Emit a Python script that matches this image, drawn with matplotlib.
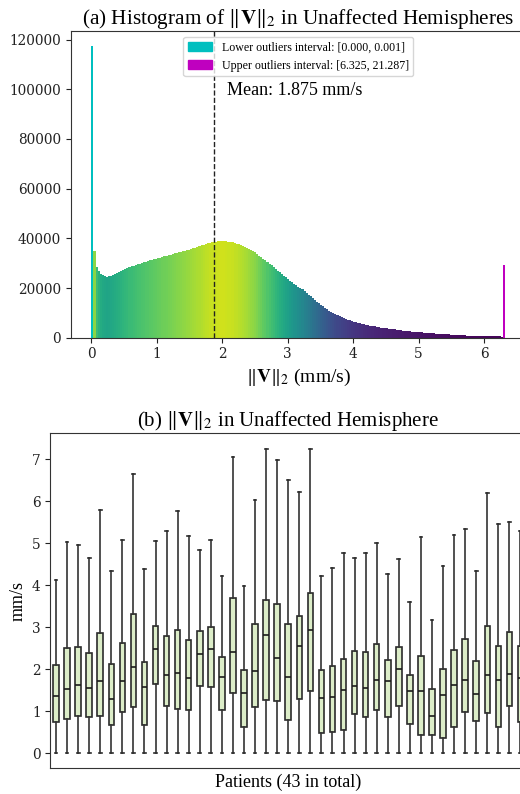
import numpy as np
import matplotlib
matplotlib.use("Agg")
import matplotlib.pyplot as plt
import matplotlib.cm as cm
from matplotlib.patches import Patch

# Figure size (the original is cropped on the right, so axes run past the edge)
IMAGE_WIDTH = 520  # px
IMAGE_HEIGHT = 794  # px
DPI = 100

TEXT_FONT = 'Liberation Serif'
TICK_FONT = 'DejaVu Serif'

# ---- (a) histogram of |V|_2 ----
HIST_LO = 0.0
HIST_HI = 6.325
N_BINS = 201  # first bin = lower outliers, last bin = upper outliers
LOWER_OUTLIER_COUNT = 117600
UPPER_OUTLIER_COUNT = 29300
MEAN_SPEED = 1.875
LOWER_INTERVAL = (0.000, 0.001)
UPPER_INTERVAL = (6.325, 21.287)
COLOR_VMAX = 42000  # count mapped to the top of the colormap

# counts of the 199 regular bins
main_counts = [
    34700, 28600, 26800, 25800, 25200, 24800, 24600, 24700, 25000, 25300,
    25700, 26100, 26500, 26900, 27300, 27700, 28000, 28400, 28700, 29000,
    29300, 29600, 29800, 30100, 30300, 30600, 30800, 31100, 31300, 31500,
    31800, 32000, 32200, 32500, 32700, 32900, 33200, 33400, 33700, 33900,
    34200, 34400, 34600, 34800, 35000, 35300, 35500, 35800, 36100, 36300,
    36600, 36900, 37200, 37500, 37800, 38000, 38300, 38500, 38600, 38700,
    38800, 38900, 38900, 38900, 38800, 38700, 38600, 38400, 38200, 37900,
    37600, 37300, 37000, 36600, 36300, 35900, 35400, 35000, 34500, 33800,
    33000, 32500, 31800, 31200, 30500, 29800, 29100, 28400, 27700, 27000,
    26400, 25700, 25000, 24400, 23700, 23000, 22400, 21800, 21200, 20600,
    20100, 19400, 18700, 18000, 17300, 16600, 15900, 15200, 14500, 13900,
    13200, 12600, 12000, 11400, 10900, 10400, 9900, 9500, 9000, 8600,
    8300, 7950, 7600, 7300, 7000, 6700, 6450, 6200, 5950, 5750,
    5600, 5400, 5200, 5000, 4850, 4700, 4550, 4400, 4250, 4100,
    3900, 3800, 3700, 3600, 3500, 3400, 3300, 3150, 3050, 2950,
    2800, 2720, 2640, 2560, 2480, 2400, 2330, 2260, 2190, 2100,
    2000, 1940, 1880, 1820, 1760, 1700, 1640, 1580, 1520, 1460,
    1400, 1350, 1300, 1250, 1200, 1150, 1100, 1050, 1000, 950,
    900, 870, 840, 810, 780, 750, 720, 700, 680, 650,
    620, 600, 580, 560, 540, 520, 500, 480, 460,
]

# ---- (b) per-patient box statistics (mm/s) ----
box_q1 = [0.75, 0.80, 0.88, 0.87, 0.88, 0.68, 0.99, 1.09, 0.68, 1.65,
          1.12, 1.05, 1.03, 1.60, 1.58, 1.02, 1.43, 0.61, 1.09, 1.27,
          1.25, 0.79, 1.28, 1.49, 0.48, 0.51, 0.56, 0.94, 0.85, 1.02,
          0.85, 1.13, 0.70, 0.44, 0.44, 0.37, 0.61, 0.98, 0.77, 0.95,
          0.61, 1.13, 0.75]
box_med = [1.35, 1.53, 1.63, 1.55, 1.72, 1.30, 1.72, 2.06, 1.58, 2.47,
           1.87, 1.91, 1.78, 2.37, 2.49, 1.82, 2.41, 1.44, 1.96, 2.82,
           2.27, 1.81, 2.56, 2.94, 1.32, 1.33, 1.51, 1.61, 1.56, 1.74,
           1.71, 2.01, 1.48, 1.47, 0.88, 1.39, 1.62, 1.75, 1.41, 1.86,
           1.75, 1.88, 1.80]
box_q3 = [2.10, 2.50, 2.52, 2.38, 2.85, 2.13, 2.63, 3.32, 2.17, 3.02,
          2.80, 2.94, 2.69, 2.91, 3.00, 2.30, 3.69, 1.97, 3.07, 3.66,
          3.55, 3.08, 3.26, 3.81, 1.99, 2.07, 2.25, 2.43, 2.42, 2.61,
          2.23, 2.52, 1.86, 2.31, 1.52, 2.00, 2.45, 2.72, 2.19, 3.04,
          2.55, 2.88, 2.55]
box_whishi = [4.13, 5.02, 4.97, 4.65, 5.80, 4.33, 5.08, 6.65, 4.38, 5.06,
              5.30, 5.78, 5.18, 4.85, 5.09, 4.21, 7.05, 3.99, 6.03, 7.25,
              6.98, 6.51, 6.22, 7.26, 4.21, 4.40, 4.76, 4.64, 4.77, 5.01,
              4.28, 4.62, 3.61, 5.16, 3.17, 4.46, 5.19, 5.34, 4.33, 6.20,
              5.47, 5.52, 5.30]
box_whislo = [0.0] * len(box_q1)

plt.rcParams['font.family'] = TEXT_FONT
plt.rcParams['mathtext.fontset'] = 'stix'

fig = plt.figure(figsize=(IMAGE_WIDTH / DPI, IMAGE_HEIGHT / DPI), dpi=DPI)

# ---------------- (a) histogram ----------------
ax1 = fig.add_axes([0.136, 0.5747, 0.8756, 0.3863])

edges = np.linspace(HIST_LO, HIST_HI, N_BINS + 1)
width = edges[1] - edges[0]
counts = np.array(main_counts, dtype=float)
colors = cm.viridis(np.clip(counts / COLOR_VMAX, 0, 1))

ax1.bar(edges[1:-2], counts, width=width, align='edge', color=colors, linewidth=0)
ax1.bar(edges[0], LOWER_OUTLIER_COUNT, width=width, align='edge', color='c', linewidth=0)
ax1.bar(edges[-2], UPPER_OUTLIER_COUNT, width=width, align='edge', color='m', linewidth=0)

ax1.axvline(MEAN_SPEED, color='#222222', linestyle='--', linewidth=1.0)
ax1.text(MEAN_SPEED + 0.2, 99600, 'Mean: %.3f mm/s' % MEAN_SPEED,
         fontsize=13, va='center', ha='left')

handles = [Patch(color='c', label='Lower outliers interval: [%.3f, %.3f]' % LOWER_INTERVAL),
           Patch(color='m', label='Upper outliers interval: [%.3f, %.3f]' % UPPER_INTERVAL)]
ax1.legend(handles=handles, loc='upper center', fontsize=8.6, framealpha=0.8)

ax1.set_title(r'(a) Histogram of $\|\mathbf{V}\|_2$ in Unaffected Hemispheres', fontsize=15.3, pad=3)
ax1.set_xlabel(r'$\|\mathbf{V}\|_2$ (mm/s)', fontsize=14)
ax1.spines['right'].set_visible(False)

# ---------------- (b) box plots ----------------
ax2 = fig.add_axes([0.0971, 0.0324, 0.9144, 0.4219])

stats = []
for i in range(len(box_med)):
    stats.append({'med': box_med[i], 'q1': box_q1[i], 'q3': box_q3[i],
                  'whislo': box_whislo[i], 'whishi': box_whishi[i], 'fliers': []})

ax2.bxp(stats, patch_artist=True, showfliers=False,
        boxprops=dict(facecolor='#dcedc8', edgecolor='#2b2b2b', linewidth=1.2),
        whiskerprops=dict(color='#333333', linewidth=1.2),
        capprops=dict(color='#2b2b2b', linewidth=1.2),
        medianprops=dict(color='#1a1a1a', linewidth=1.2))

ax2.set_xticks([])
ax2.set_title(r'(b) $\|\mathbf{V}\|_2$ in Unaffected Hemisphere', fontsize=15, pad=3)
ax2.set_xlabel('Patients (43 in total)', fontsize=13)
ax2.set_ylabel('mm/s', fontsize=13)

for ax in (ax1, ax2):
    ax.tick_params(labelsize=9.8, labelfontfamily=TICK_FONT, colors='#222222')
    for sp in ax.spines.values():
        sp.set_color('#333333')

fig.savefig('out.png', dpi=DPI)
